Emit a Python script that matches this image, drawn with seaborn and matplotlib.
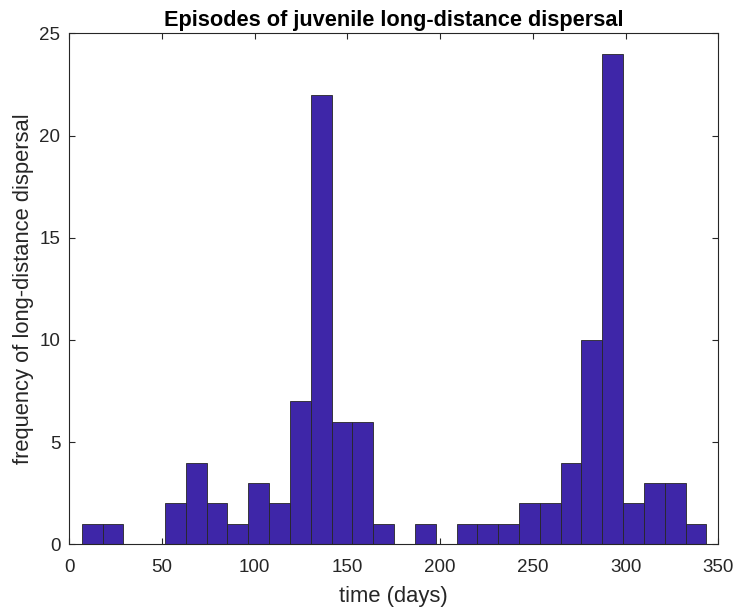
import numpy as np
import pandas as pd
import matplotlib
matplotlib.use("Agg")
import matplotlib.pyplot as plt
import seaborn as sns

# Data (30 equal-width bins)
bin_first_edge = 6.7
bin_last_edge = 343.6
counts = [1, 1, 0, 0, 2, 4, 2, 1, 3, 2, 7, 22, 6, 6, 1,
          0, 1, 0, 1, 1, 1, 2, 2, 4, 10, 24, 2, 3, 3, 1]
x_ticks = [0, 50, 100, 150, 200, 250, 300, 350]
y_ticks = [0, 5, 10, 15, 20, 25]
title = "Episodes of juvenile long-distance dispersal"
xlabel = "time (days)"
ylabel = "frequency of long-distance dispersal"

edges = np.linspace(bin_first_edge, bin_last_edge, len(counts) + 1)
centers = (edges[:-1] + edges[1:]) / 2
df = pd.DataFrame({"time": centers, "count": counts})

sns.set_theme(style="white")
plt.rcParams["font.family"] = ["Liberation Sans", "DejaVu Sans"]

fig = plt.figure(figsize=(7.38, 6.07), dpi=100)
ax = fig.add_axes([0.0939, 0.1033, 0.8794, 0.8418])

sns.histplot(data=df, x="time", weights="count", bins=len(counts),
             binrange=(bin_first_edge, bin_last_edge), ax=ax,
             color="#3E26A8", edgecolor="#262626", linewidth=0.6,
             alpha=1.0, stat="count")

ax.set_xlim(0, 350)
ax.set_ylim(0, 25)
ax.set_xticks(x_ticks)
ax.set_yticks(y_ticks)
ax.set_title(title, fontsize=15.7, fontweight="bold", color="black", pad=5)
ax.set_xlabel(xlabel, fontsize=15.8, color="#262626", labelpad=7)
ax.set_ylabel(ylabel, fontsize=15.8, color="#262626", labelpad=4)

for s in ax.spines.values():
    s.set_visible(True)
    s.set_color("#262626")
    s.set_linewidth(0.8)
ax.tick_params(direction="in", length=4, width=0.8, colors="#262626",
               labelsize=13.5, top=True, right=True, bottom=True, left=True)
ax.tick_params(axis="x", pad=10.5)
ax.tick_params(axis="y", pad=6.5)
ax.tick_params(axis="both", labelcolor="#262626")

fig.savefig("out.png", dpi=100)
